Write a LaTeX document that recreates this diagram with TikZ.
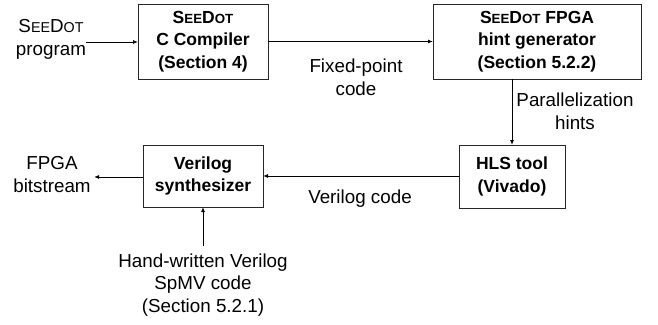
\documentclass[tikz,border=0pt]{standalone}
\usepackage{fontspec}
\setmainfont{Liberation Sans}
\usetikzlibrary{arrows.meta}
\makeatletter
% fake small caps: uppercase letters at a reduced size
\newcommand\scsmall[1]{{\fontsize{\fpeval{0.76*\f@size}}{0}\selectfont #1}}
\makeatother
\newcommand\seedot{S\scsmall{EE}D\scsmall{OT}}
\begin{document}
\begin{tikzpicture}[x=1pt,y=-1pt,
  every node/.style={inner sep=0pt, outer sep=0pt},
  plain/.style={align=center, font=\fontsize{18.8}{22.8}\selectfont},
  stagebox/.style={draw=black!85, line width=0.8pt, align=center,
    font=\fontsize{17.5}{22.5}\selectfont\bfseries},
  flow/.style={line width=0.9pt, -{Latex[length=5pt,width=4pt]}}]
\useasboundingbox (0,0) rectangle (658,324);

% processing stages
\node[stagebox, minimum width=130pt, minimum height=75pt] (comp) at (203,41.5)
  {\seedot\\C Compiler\\(Section 4)};
\node[stagebox, minimum width=208pt, minimum height=75pt] (hint) at (537,41.5)
  {\seedot\ FPGA\\hint generator\\(Section 5.2.2)};
\node[stagebox, minimum width=120pt, minimum height=62pt] (synth) at (203,176)
  {Verilog\\synthesizer};
\node[stagebox, minimum width=106pt, minimum height=63pt] (hls) at (512,176.5)
  {HLS tool\\(Vivado)};

% inputs, outputs and edge labels
\node[plain] (prog) at (51,39) {\seedot\\program};
\node[plain] (fixed) at (356,77) {Fixed-point\\code};
\node[plain] (par) at (575,111.5) {Parallelization\\hints};
\node[plain] (bits) at (52,174.5) {FPGA\\bitstream};
\node[plain] (vcode) at (360,199) {Verilog code};
\node[plain] (hand) at (203,285) {Hand-written Verilog\\SpMV code\\(Section 5.2.1)};

\coordinate (progend) at (86,42);
\coordinate (bitsend) at (94,177);
\coordinate (handend) at (203,246);

% data flow
\draw[flow] (progend) -- (progend -| comp.west);
\draw[flow] (comp.east) -- (hint.west);
\draw[flow] (hls.north |- hint.south) -- (hls.north);
\draw[flow] (hls.west |- synth.east) -- (synth.east);
\draw[flow] (synth.west |- bitsend) -- (bitsend);
\draw[flow] (handend) -- (synth.south);
\end{tikzpicture}
\end{document}
